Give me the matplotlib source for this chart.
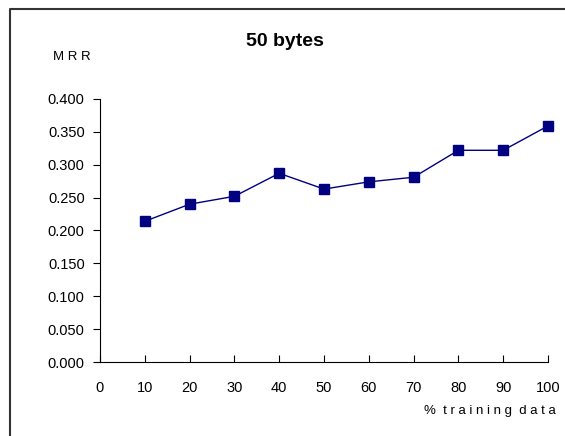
import matplotlib.pyplot as plt
from matplotlib.lines import Line2D

# data
pct_training = [10, 20, 30, 40, 50, 60, 70, 80, 90, 100]
mrr = [0.214, 0.240, 0.252, 0.287, 0.263, 0.274, 0.281, 0.322, 0.322, 0.359]
y_ticks = [0.0, 0.05, 0.1, 0.15, 0.2, 0.25, 0.3, 0.35, 0.4]
x_ticks = [0, 10, 20, 30, 40, 50, 60, 70, 80, 90, 100]

plt.rcParams['font.family'] = ['Liberation Sans', 'DejaVu Sans']

fig = plt.figure(figsize=(5.65, 4.36), dpi=100)
ax = fig.add_axes([100 / 565, 1 - 362 / 436, 448 / 565, 263 / 436])

# outer frame like the spreadsheet chart area (only top and left edges visible)
fx, fy = 9.5 / 565, 1 - 9.5 / 436
fig.lines.append(Line2D([fx, fx, 1.0], [0.0, fy, fy], transform=fig.transFigure,
                        color='#333333', linewidth=1.5))

ax.plot(pct_training, mrr, color='#000080', linewidth=1.0,
        marker='s', markersize=7.5, markerfacecolor='#000080',
        markeredgecolor='#000080', clip_on=False)

ax.set_xlim(0, 100)
ax.set_ylim(0, 0.4)
ax.set_xticks(x_ticks)
ax.set_yticks(y_ticks)
ax.set_yticklabels([f"{v:.3f}" for v in y_ticks])
ax.spines['top'].set_visible(False)
ax.spines['right'].set_visible(False)
ax.tick_params(axis='x', direction='in', length=5, pad=14, labelsize=10.5)
ax.tick_params(axis='y', direction='out', length=5, pad=6, labelsize=10.5)

fig.text(285 / 565, 1 - 42 / 436, "50 bytes", ha='center', va='center',
         fontsize=14, fontweight='bold')
fig.text(72 / 565, 1 - 57 / 436, "M R R", ha='center', va='center', fontsize=9.5)
fig.text(490 / 565, 1 - 411 / 436, "%  t r a i n i n g  d a t a",
         ha='center', va='center', fontsize=9.5)

fig.savefig("out.png", dpi=100)
